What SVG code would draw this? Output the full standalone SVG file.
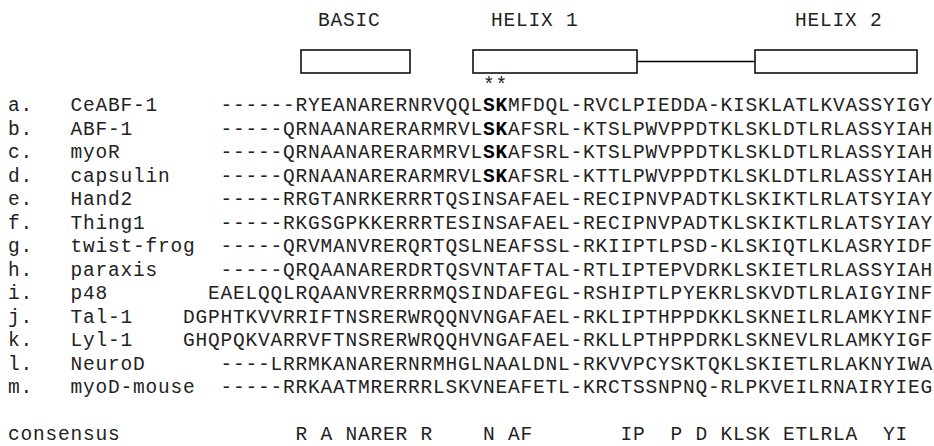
<svg xmlns="http://www.w3.org/2000/svg" width="934" height="446" viewBox="0 0 934 446">
<style>
.t{font-family:"Liberation Mono","DejaVu Sans Mono",monospace;font-size:19.5px;letter-spacing:0.8px;fill:#222}
.b{font-weight:bold;fill:#000}
.box{fill:#fff;stroke:#000;stroke-width:1.5}
.ln{stroke:#000;stroke-width:1.3;fill:none}
</style>
<rect width="934" height="446" fill="#fff"/>
<g id="domain-basic"><text class="t" x="318" y="26">BASIC</text><rect class="box" x="301" y="50" width="109" height="23"/></g>
<g id="domain-helix1"><text class="t" x="491" y="26">HELIX 1</text><rect class="box" x="473" y="50" width="164" height="23"/></g>
<g id="domain-helix2"><text class="t" x="795" y="26">HELIX 2</text><rect class="box" x="755" y="50" width="162" height="23"/></g>
<g id="connectors"><line class="ln" x1="637" y1="61.5" x2="755" y2="61.5"/></g>
<g id="stars"><text class="t" x="483" y="91">**</text></g>
<g id="row-a"><text class="t" x="8" y="111">a.</text><text class="t" x="70.5" y="111">CeABF-1</text><text class="t" x="220.5" y="111">------RYEANARERNRVQQL<tspan class="b">SK</tspan>MFDQL-RVCLPIEDDA-KISKLATLKVASSYIGY</text></g>
<g id="row-b"><text class="t" x="8" y="134.5">b.</text><text class="t" x="70.5" y="134.5">ABF-1</text><text class="t" x="220.5" y="134.5">-----QRNAANARERARMRVL<tspan class="b">SK</tspan>AFSRL-KTSLPWVPPDTKLSKLDTLRLASSYIAH</text></g>
<g id="row-c"><text class="t" x="8" y="158">c.</text><text class="t" x="70.5" y="158">myoR</text><text class="t" x="220.5" y="158">-----QRNAANARERARMRVL<tspan class="b">SK</tspan>AFSRL-KTSLPWVPPDTKLSKLDTLRLASSYIAH</text></g>
<g id="row-d"><text class="t" x="8" y="181.5">d.</text><text class="t" x="70.5" y="181.5">capsulin</text><text class="t" x="220.5" y="181.5">-----QRNAANARERARMRVL<tspan class="b">SK</tspan>AFSRL-KTTLPWVPPDTKLSKLDTLRLASSYIAH</text></g>
<g id="row-e"><text class="t" x="8" y="205">e.</text><text class="t" x="70.5" y="205">Hand2</text><text class="t" x="220.5" y="205">-----RRGTANRKERRRTQSINSAFAEL-RECIPNVPADTKLSKIKTLRLATSYIAY</text></g>
<g id="row-f"><text class="t" x="8" y="228.5">f.</text><text class="t" x="70.5" y="228.5">Thing1</text><text class="t" x="220.5" y="228.5">-----RKGSGPKKERRRTESINSAFAEL-RECIPNVPADTKLSKIKTLRLATSYIAY</text></g>
<g id="row-g"><text class="t" x="8" y="252">g.</text><text class="t" x="70.5" y="252">twist-frog</text><text class="t" x="220.5" y="252">-----QRVMANVRERQRTQSLNEAFSSL-RKIIPTLPSD-KLSKIQTLKLASRYIDF</text></g>
<g id="row-h"><text class="t" x="8" y="275.5">h.</text><text class="t" x="70.5" y="275.5">paraxis</text><text class="t" x="220.5" y="275.5">-----QRQAANARERDRTQSVNTAFTAL-RTLIPTEPVDRKLSKIETLRLASSYIAH</text></g>
<g id="row-i"><text class="t" x="8" y="299">i.</text><text class="t" x="70.5" y="299">p48</text><text class="t" x="208" y="299">EAELQQLRQAANVRERRRMQSINDAFEGL-RSHIPTLPYEKRLSKVDTLRLAIGYINF</text></g>
<g id="row-j"><text class="t" x="8" y="322.5">j.</text><text class="t" x="70.5" y="322.5">Tal-1</text><text class="t" x="183" y="322.5">DGPHTKVVRRIFTNSRERWRQQNVNGAFAEL-RKLIPTHPPDKKLSKNEILRLAMKYINF</text></g>
<g id="row-k"><text class="t" x="8" y="346">k.</text><text class="t" x="70.5" y="346">Lyl-1</text><text class="t" x="183" y="346">GHQPQKVARRVFTNSRERWRQQHVNGAFAEL-RKLLPTHPPDRKLSKNEVLRLAMKYIGF</text></g>
<g id="row-l"><text class="t" x="8" y="369.5">l.</text><text class="t" x="70.5" y="369.5">NeuroD</text><text class="t" x="220.5" y="369.5">----LRRMKANARERNRMHGLNAALDNL-RKVVPCYSKTQKLSKIETLRLAKNYIWA</text></g>
<g id="row-m"><text class="t" x="8" y="393">m.</text><text class="t" x="70.5" y="393">myoD-mouse</text><text class="t" x="220.5" y="393">-----RRKAATMRERRRLSKVNEAFETL-KRCTSSNPNQ-RLPKVEILRNAIRYIEG</text></g>
<g id="consensus"><text class="t" x="8" y="440">consensus</text><text class="t" x="295.5" y="440">R A NARER R</text><text class="t" x="483" y="440">N AF</text><text class="t" x="620.5" y="440">IP</text><text class="t" x="670.5" y="440">P D</text><text class="t" x="720.5" y="440">KLSK</text><text class="t" x="783" y="440">ETLRLA</text><text class="t" x="883" y="440">YI</text></g>
</svg>
